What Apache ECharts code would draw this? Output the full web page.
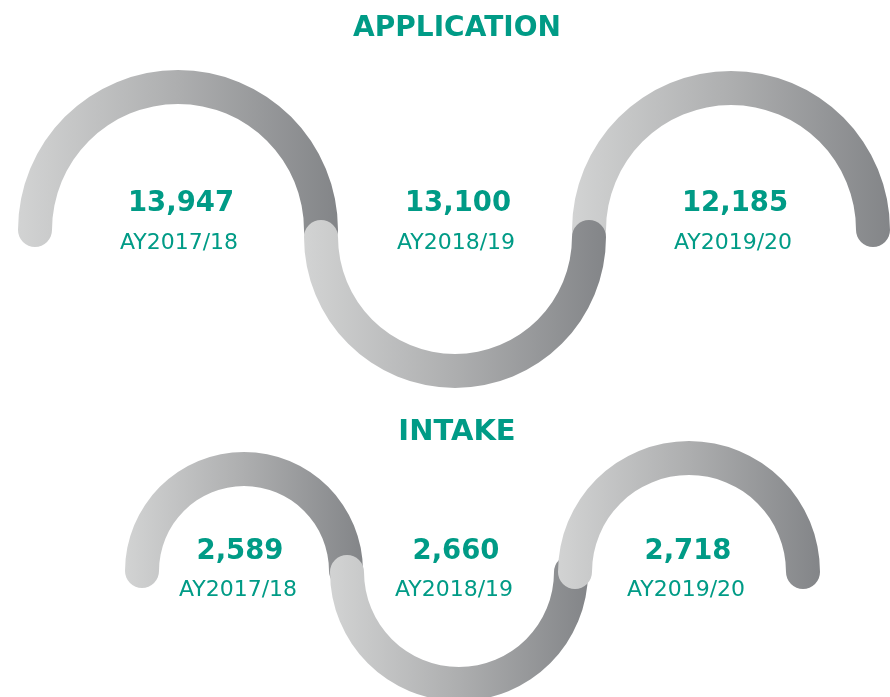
<!DOCTYPE html>
<html>
<head>
<meta charset="utf-8">
<script src="https://cdn.jsdelivr.net/npm/echarts@6/dist/echarts.min.js"></script>
<style>
html,body{margin:0;padding:0;background:#fff;}
#chart{width:890px;height:697px;}
</style>
</head>
<body>
<div id="chart"></div>
<script>
// ---- data ----
const sectionTitles = ['APPLICATION', 'INTAKE'];
const years = ['AY2017/18', 'AY2018/19', 'AY2019/20'];
const applicationValues = [13947, 13100, 12185];
const intakeValues = [2589, 2660, 2718];

// ---- layout (styling only) ----
const TEAL = '#009b86';
const FONT = '"DejaVu Sans", Inter, sans-serif';
const appLayout = [
  { cx: 178, cy: 230, r: 160, top: true, z: 2, vdx: 3, vdy: -26, ldy: 13 },
  { cx: 455, cy: 237, r: 151, top: false, z: 4, vdx: 3, vdy: -33, ldy: 6 },
  { cx: 731, cy: 230, r: 159, top: true, z: 2, vdx: 4, vdy: -26, ldy: 13 }
];
const intakeLayout = [
  { cx: 244, cy: 571, r: 119, top: true, z: 2, vdx: -4, vdy: -19, ldy: 19 },
  { cx: 459, cy: 572, r: 129, top: false, z: 3, vdx: -3, vdy: -20, ldy: 18 },
  { cx: 689, cy: 572, r: 131, top: true, z: 4, vdx: -1, vdy: -20, ldy: 18 }
];
const ARC_W = 34;

function arcGradient() {
  return new echarts.graphic.LinearGradient(0, 0, 1, 0, [
    { offset: 0, color: '#d2d3d3' },
    { offset: 0.5, color: '#adaeaf' },
    { offset: 1, color: '#838588' }
  ]);
}

function makeGauge(value, label, L, width) {
  return {
    type: 'gauge',
    center: [L.cx, L.cy],
    radius: L.r,
    startAngle: L.top ? 180 : 0,
    endAngle: L.top ? 0 : -180,
    clockwise: true,
    min: 0,
    max: value,
    z: L.z,
    animation: false,
    silent: true,
    axisLine: { show: false },
    splitLine: { show: false },
    axisTick: { show: false },
    axisLabel: { show: false },
    pointer: { show: false },
    anchor: { show: false },
    progress: {
      show: true,
      roundCap: true,
      width: width,
      itemStyle: { color: arcGradient() }
    },
    title: {
      show: true,
      offsetCenter: [L.vdx - 2, L.ldy],
      color: TEAL,
      fontFamily: FONT,
      fontSize: 22,
      fontWeight: 'normal'
    },
    detail: {
      show: true,
      offsetCenter: [L.vdx, L.vdy],
      color: TEAL,
      fontFamily: FONT,
      fontSize: 27.5,
      fontWeight: 'bold',
      formatter: function (v) { return v.toLocaleString('en-US'); }
    },
    data: [{ value: value, name: label }]
  };
}

const series = [];
applicationValues.forEach((v, i) => series.push(makeGauge(v, years[i], appLayout[i], ARC_W)));
intakeValues.forEach((v, i) => series.push(makeGauge(v, years[i], intakeLayout[i], ARC_W)));

const chart = echarts.init(document.getElementById('chart'), null, { renderer: 'canvas' });
chart.setOption({
  backgroundColor: '#ffffff',
  animation: false,
  title: [
    { text: sectionTitles[0], left: 457, textAlign: 'center', top: 15, padding: 0,
      textStyle: { color: TEAL, fontFamily: FONT, fontSize: 28, fontWeight: 'bold' } },
    { text: sectionTitles[1], left: 457, textAlign: 'center', top: 418, padding: 0,
      textStyle: { color: TEAL, fontFamily: FONT, fontSize: 29, fontWeight: 'bold' } }
  ],
  series: series
});
</script>
</body>
</html>
